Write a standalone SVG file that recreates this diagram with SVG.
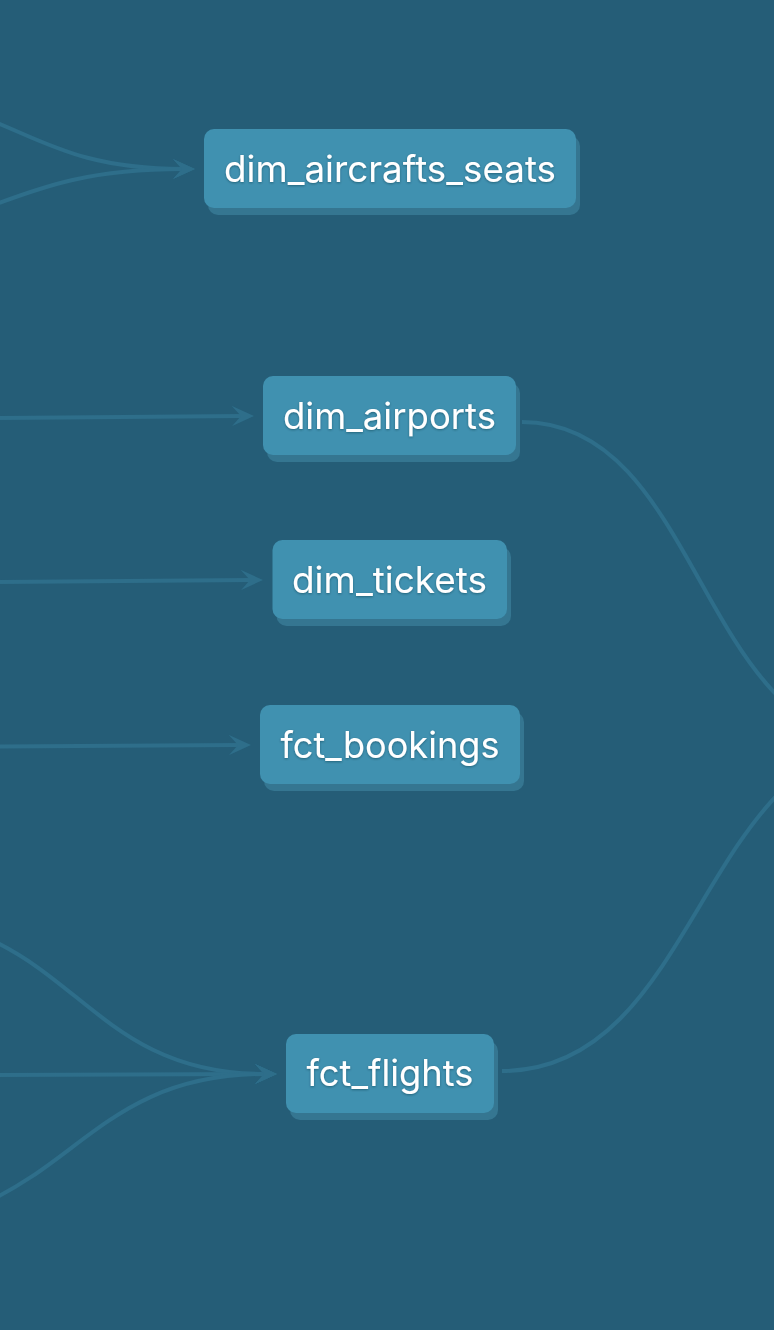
<svg xmlns="http://www.w3.org/2000/svg" width="774" height="1330" viewBox="0 0 774 1330">
  <style>
    .edge { fill: none; stroke: #2E6E8A; stroke-width: 4; }
    .shadow { fill: #357691; }
    .box { fill: #4091B0; }
    .label { font-family: Inter, "Liberation Sans", Arial, sans-serif; font-size: 37px; font-weight: 400; fill: #FFFFFF; text-anchor: middle; filter: url(#ts); }
  </style>
  <defs>
    <marker id="arrow" markerUnits="userSpaceOnUse" viewBox="0 0 22 20" markerWidth="22" markerHeight="20" refX="10" refY="10" orient="auto">
      <path d="M0,0 L22,10 L0,20 L9,10 Z" fill="#2E6E8A"/>
    </marker>
    <filter id="ts" x="-10%" y="-30%" width="120%" height="160%">
      <feDropShadow dx="0" dy="1" stdDeviation="1" flood-color="#0b2a3a" flood-opacity="0.45"/>
    </filter>
  </defs>
  <rect x="0" y="0" width="774" height="1330" fill="#255D77"/>

  <g id="connectors">
    <path class="edge" marker-end="url(#arrow)" d="M-155,95 C20,95 20,169 183,169"/>
    <path class="edge" marker-end="url(#arrow)" d="M-205,241 C-5,241 -5,169 183,169"/>
    <path class="edge" marker-end="url(#arrow)" d="M0,418 L242,416"/>
    <path class="edge" marker-end="url(#arrow)" d="M0,582 L251,580"/>
    <path class="edge" marker-end="url(#arrow)" d="M0,746.5 L239,745"/>
    <path class="edge" marker-end="url(#arrow)" d="M-127,916 C75,916 75,1074 265,1074"/>
    <path class="edge" marker-end="url(#arrow)" d="M0,1075 L265,1074"/>
    <path class="edge" marker-end="url(#arrow)" d="M-137,1226 C70,1226 70,1074 265,1074"/>
    <path class="edge" d="M522,422 C700,422 700,740 878,740"/>
    <path class="edge" d="M502,1071 C700,1071 700,740 898,740"/>
  </g>

  <g id="dim_aircrafts_seats">
    <rect class="shadow" x="208" y="136" width="372" height="79" rx="10"/>
    <rect class="box" x="204" y="129" width="372" height="79" rx="10"/>
    <text class="label" x="390" y="182" textLength="332" lengthAdjust="spacingAndGlyphs">dim_aircrafts_seats</text>
  </g>

  <g id="dim_airports">
    <rect class="shadow" x="267" y="383" width="253" height="79" rx="10"/>
    <rect class="box" x="263" y="376" width="253" height="79" rx="10"/>
    <text class="label" x="389.5" y="429" textLength="213" lengthAdjust="spacingAndGlyphs">dim_airports</text>
  </g>

  <g id="dim_tickets">
    <rect class="shadow" x="276.5" y="547" width="234.5" height="79" rx="10"/>
    <rect class="box" x="272.5" y="540" width="234.5" height="79" rx="10"/>
    <text class="label" x="389.5" y="593" textLength="195" lengthAdjust="spacingAndGlyphs">dim_tickets</text>
  </g>

  <g id="fct_bookings">
    <rect class="shadow" x="264" y="712" width="260" height="79" rx="10"/>
    <rect class="box" x="260" y="705" width="260" height="79" rx="10"/>
    <text class="label" x="390" y="758" textLength="219" lengthAdjust="spacingAndGlyphs">fct_bookings</text>
  </g>

  <g id="fct_flights">
    <rect class="shadow" x="290" y="1041" width="208" height="79" rx="10"/>
    <rect class="box" x="286" y="1034" width="208" height="79" rx="10"/>
    <text class="label" x="390" y="1086" textLength="167" lengthAdjust="spacingAndGlyphs">fct_flights</text>
  </g>
</svg>
